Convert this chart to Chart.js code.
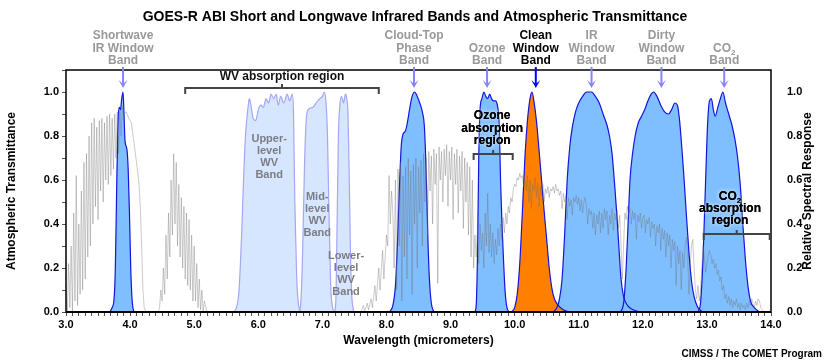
<!DOCTYPE html>
<html>
<head>
<meta charset="utf-8">
<script src="https://cdn.jsdelivr.net/npm/chart.js@4.4.0/dist/chart.umd.min.js"></script>
<style>
  body { margin: 0; background: #fff; }
</style>
</head>
<body>
<canvas id="chart" width="830" height="361"></canvas>
<script>
// atmospheric transmittance (gray line)
const transWl = [
  3.00,3.02,3.04,3.06,3.08,3.10,3.12,3.14,3.16,3.18,
  3.20,3.22,3.24,3.26,3.28,3.30,3.32,3.34,3.36,3.38,
  3.40,3.42,3.44,3.46,3.48,3.50,3.52,3.54,3.56,3.58,
  3.60,3.62,3.64,3.66,3.68,3.70,3.72,3.74,3.76,3.78,
  3.80,3.82,3.84,3.86,3.88,3.90,
  3.94,3.98,4.02,4.06,4.10,4.14,4.16,4.18,4.20,4.22,4.25,4.44,
  4.46,4.48,4.50,4.52,4.54,4.56,4.58,4.60,4.62,4.64,
  4.66,4.68,4.70,4.72,4.74,4.76,4.78,4.80,4.82,4.84,
  4.86,4.88,4.90,4.92,4.94,4.96,4.98,5.00,5.02,5.04,
  5.06,5.08,5.10,5.12,5.14,5.16,5.20,
  5.30,7.58,
  7.60,7.64,7.66,7.70,7.72,7.76,7.78,7.82,7.84,7.88,7.90,7.94,7.96,8.00,8.02,8.04,8.06,8.08,
  8.10,8.12,8.14,8.16,8.18,8.20,8.22,8.24,8.26,8.28,
  8.30,8.32,8.34,8.36,8.38,8.40,8.42,8.44,8.46,8.48,
  8.50,8.52,8.54,8.56,8.58,8.60,8.62,8.64,8.66,8.68,
  8.70,8.72,8.74,8.76,8.78,8.80,8.82,8.84,8.86,8.88,
  8.90,8.92,8.94,8.96,8.98,9.00,9.02,9.04,9.06,9.08,
  9.10,9.12,9.14,9.16,9.18,9.20,9.22,9.24,9.26,9.28,
  9.30,9.32,9.34,9.36,
  9.38,9.40,9.42,9.44,9.46,9.48,9.50,9.52,9.54,9.56,
  9.58,9.60,9.62,9.64,9.66,9.68,9.70,9.72,9.74,9.76,
  9.78,9.80,9.82,9.84,9.86,9.88,9.90,9.92,9.94,9.96,
  9.98,10.00,10.02,10.04,10.06,10.08,10.10,10.12,10.14,10.16,
  10.18,10.20,10.22,10.24,10.26,10.28,10.30,10.32,10.34,10.36,
  10.38,10.40,10.42,10.44,10.46,10.48,10.50,10.52,10.54,10.56,
  10.58,10.60,10.62,10.64,10.66,10.68,10.70,10.72,10.74,10.76,
  10.78,10.80,10.82,10.84,10.86,10.88,10.90,10.92,10.94,10.96,
  10.98,11.00,11.02,11.04,11.06,11.08,11.10,11.12,11.14,11.16,
  11.18,11.20,11.22,11.24,11.26,11.28,11.30,11.32,11.34,11.36,
  11.38,11.40,11.42,11.44,11.46,11.48,11.50,11.52,11.54,11.56,
  11.58,11.60,11.62,11.64,11.66,11.68,11.70,11.72,11.74,11.76,
  11.78,11.80,11.82,11.84,11.86,11.88,11.90,11.92,11.94,11.96,
  11.98,12.00,12.02,12.04,12.06,12.08,12.10,12.12,12.14,12.16,
  12.18,12.20,12.22,12.24,12.26,12.28,12.30,12.32,12.34,12.36,
  12.38,12.40,12.42,12.44,12.46,12.48,12.50,12.52,12.54,12.56,
  12.58,12.60,12.62,12.64,12.66,12.68,12.70,12.72,12.74,12.76,
  12.78,12.80,12.82,12.84,12.86,12.88,12.90,12.92,12.94,12.96,
  12.98,13.00,13.02,13.04,13.06,13.08,13.10,13.12,13.14,13.16,
  13.18,13.20,13.22,13.24,13.26,13.28,13.30,13.32,13.34,13.36,
  13.38,13.40,13.42,13.44,13.46,13.48,13.50,13.52,13.54,13.56,
  13.58,13.60,13.62,13.64,13.66,13.68,13.70,13.72,13.74,13.76,
  13.78,13.80,13.82,13.84,13.86,13.90,14.00
];
const transVal = [
  .10,.00,.22,.02,.30,.00,.45,.05,.62,.03,
  .40,.08,.55,.10,.68,.15,.72,.25,.80,.30,
  .86,.40,.88,.48,.84,.42,.87,.55,.88,.50,
  .86,.60,.89,.58,.90,.62,.88,.65,.90,.70,
  .91,.72,.92,.80,.93,.90,
  .91,.88,.86,.77,.68,.58,.47,.30,.10,.02,0,0,
  .02,.10,.05,.20,.08,.35,.15,.45,.25,.60,
  .35,.72,.40,.68,.30,.58,.25,.52,.20,.48,
  .15,.45,.12,.42,.10,.35,.05,.30,.05,.22,
  .02,.15,.01,.10,0,.05,0,
  0,0,
  0,.03,0,.04,.01,.06,.02,.12,.05,.20,.10,.28,.15,.35,.30,.62,.40,.55,
  .45,.20,.60,.10,.65,.30,.68,.05,.62,.25,
  .66,.15,.70,.35,.64,.08,.67,.40,.70,.20,
  .66,.45,.69,.30,.72,.50,.70,.35,.73,.55,
  .71,.40,.74,.58,.72,.13,.75,.60,.73,.50,
  .74,.62,.76,.48,.73,.60,.75,.42,.72,.58,
  .74,.45,.71,.55,.73,.38,.70,.50,.68,.35,
  .66,.25,.60,.20,
  .35,.25,.38,.22,.40,.28,.36,.20,.45,.30,
  .54,.27,.40,.25,.36,.22,.33,.26,.38,.30,
  .40,.33,.43,.36,.45,.40,.48,.45,.52,.50,
  .56,.58,.57,.61,.60,.63,.61,.62,.57,.60,
  .55,.62,.50,.60,.47,.58,.55,.61,.52,.59,
  .48,.57,.53,.58,.50,.56,.54,.57,.52,.56,
  .55,.57,.54,.58,.55,.56,.53,.55,.47,.54,
  .50,.53,.42,.52,.48,.51,.44,.52,.50,.53,
  .49,.52,.46,.51,.45,.50,.52,.48,.40,.47,
  .44,.46,.38,.45,.35,.44,.40,.46,.36,.45,
  .38,.47,.42,.46,.35,.44,.40,.47,.37,.45,
  .42,.46,.38,.44,.30,.15,.30,.45,.42,.48,
  .44,.47,.40,.46,.42,.45,.33,.44,.41,.45,
  .38,.43,.44,.36,.42,.40,.43,.34,.41,.38,
  .40,.30,.39,.36,.40,.28,.38,.33,.37,.25,
  .36,.30,.35,.20,.33,.28,.32,.12,.30,.22,
  .28,.10,.27,.20,.30,.34,.25,.08,.22,.30,
  .33,.20,.10,.06,.12,.05,.10,.20,.30,.25,
  .18,.22,.26,.28,.26,.22,.24,.20,.22,.17,
  .19,.14,.16,.10,.12,.06,.08,.04,.07,.03,
  .06,.02,.05,.03,.06,.02,.04,.01,.04,.02,
  .03,.01,.04,.02,.05,.03,.06,.04,.02,.05,
  .03,.06,.05,.02,.01,0,0
];

// ABI band relative spectral responses
const band07Wl   = [3.68,3.72,3.75,3.77,3.79,3.81,3.83,3.85,3.87,3.89,3.905,3.92,3.95,3.97,3.99,4.01,4.03,4.05,4.07];
const band07Resp = [0,.02,.06,.20,.55,.85,.93,.92,.97,1.0,.90,.78,.74,.65,.45,.20,.06,.01,0];

const band08Wl   = [5.60,5.66,5.70,5.74,5.77,5.80,5.84,5.86,5.88,5.92,5.96,6.00,6.04,6.08,6.12,6.16,6.20,6.24,6.28,6.31,6.35,6.40,6.45,6.49,6.53,6.55,6.57,6.60,6.63,6.67];
const band08Resp = [0,.02,.10,.35,.60,.80,.93,.97,.95,.88,.87,.92,.94,.93,.97,.95,.99,.97,.99,.94,.98,.95,.99,.96,.99,.90,.50,.15,.03,0];

const band09Wl   = [6.63,6.66,6.69,6.72,6.75,6.78,6.85,6.90,6.96,7.00,7.03,7.06,7.08,7.10,7.13,7.16,7.19];
const band09Resp = [0,.03,.25,.65,.88,.92,.93,.95,.97,.98,1.0,.94,.80,.50,.12,.02,0];

const band10Wl   = [7.19,7.21,7.23,7.25,7.27,7.30,7.33,7.36,7.38,7.40,7.42,7.44,7.46,7.49];
const band10Resp = [0,.05,.40,.80,.93,.98,.95,.99,.97,.90,.60,.25,.07,0];

const band11Wl   = [8.05,8.10,8.14,8.17,8.20,8.23,8.26,8.29,8.32,8.36,8.40,8.44,8.48,8.52,8.56,8.59,8.61,8.63,8.65,8.67,8.70,8.74];
const band11Resp = [0,.03,.12,.30,.55,.75,.81,.82,.85,.92,.98,1.0,.98,.95,.91,.85,.72,.52,.30,.15,.04,0];

const band12Wl   = [9.38,9.40,9.42,9.44,9.46,9.49,9.52,9.55,9.58,9.61,9.64,9.67,9.70,9.73,9.76,9.78,9.80,9.82,9.85,9.88,9.92];
const band12Resp = [0,.03,.25,.70,.92,.97,1.0,.98,.97,.99,.97,.96,.96,.94,.85,.60,.42,.28,.10,.02,0];

const band13Wl   = [9.95,10.00,10.04,10.08,10.12,10.16,10.20,10.24,10.27,10.30,10.34,10.38,10.42,10.46,10.50,10.54,10.58,10.62,10.68,10.76,10.85];
const band13Resp = [0,.02,.08,.22,.45,.70,.87,.97,1.0,.96,.87,.74,.60,.46,.33,.20,.11,.06,.03,.01,0];

const band14Wl   = [10.60,10.66,10.70,10.74,10.78,10.82,10.86,10.90,10.95,11.00,11.06,11.12,11.20,11.26,11.32,11.38,11.44,11.48,11.52,11.56,11.60,11.63,11.66,11.70,11.76,11.85,11.95];
const band14Resp = [0,.02,.06,.15,.35,.60,.75,.84,.91,.95,.98,1.0,1.0,.98,.95,.90,.85,.80,.72,.58,.42,.28,.15,.07,.03,.01,0];

const band15Wl   = [11.65,11.70,11.74,11.77,11.80,11.84,11.88,11.93,11.98,12.03,12.08,12.13,12.17,12.22,12.28,12.34,12.40,12.45,12.50,12.54,12.57,12.60,12.64,12.68,12.72,12.76,12.80,12.86,12.94];
const band15Resp = [0,.04,.20,.40,.60,.72,.80,.86,.89,.92,.96,.99,1.0,.98,.94,.91,.90,.92,.95,.94,.88,.78,.62,.44,.27,.14,.07,.02,0];

const band16Wl   = [12.86,12.90,12.94,12.98,13.01,13.04,13.07,13.10,13.13,13.17,13.21,13.25,13.29,13.34,13.39,13.44,13.48,13.52,13.56,13.60,13.64,13.68,13.74,13.82];
const band16Resp = [0,.04,.25,.60,.85,.96,.97,.92,.89,.93,.97,1.0,.95,.90,.85,.78,.70,.58,.40,.24,.12,.05,.02,0];

// labels above the plot with their arrow wavelengths
const bandNames = [
  { wl: 3.89,  lines: ['Shortwave', 'IR Window', 'Band'] },
  { wl: 8.43,  lines: ['Cloud-Top', 'Phase', 'Band'] },
  { wl: 9.57,  lines: ['Ozone', 'Band'] },
  { wl: 10.33, lines: ['Clean', 'Window', 'Band'], main: true },
  { wl: 11.2,  lines: ['IR', 'Window', 'Band'] },
  { wl: 12.29, lines: ['Dirty', 'Window', 'Band'] },
  { wl: 13.27, lines: ['CO2', 'Band'] }
];
const wvNames = [
  { wl: 6.17, v: .786, lines: ['Upper-', 'level', 'WV', 'Band'] },
  { wl: 6.92, v: .523, lines: ['Mid-', 'level', 'WV', 'Band'] },
  { wl: 7.37, v: .255, lines: ['Lower-', 'level', 'WV', 'Band'] }
];

const FONT = '"Liberation Sans", Arial, sans-serif';

function pts(xs, ys) {
  return xs.map((x, i) => ({ x: x, y: ys[i] }));
}

function band(wl, resp, fill, line, order) {
  return {
    data: pts(wl, resp),
    yAxisID: 'y2',
    backgroundColor: fill,
    borderColor: line,
    borderWidth: 1.2,
    fill: 'origin',
    cubicInterpolationMode: 'monotone',
    pointRadius: 0,
    order: order
  };
}

const blueFill = '#80bfff', blueLine = '#1414dc';
const wvFill = '#d5e6fe', wvLine = '#a6a6f4';

function label(ctx, str, x, y, size, color, glow) {
  ctx.font = 'bold ' + size + 'px ' + FONT;
  ctx.fillStyle = color;
  ctx.textAlign = 'center';
  ctx.textBaseline = 'middle';
  if (str === 'CO2') {
    // CO with subscript 2
    const w1 = ctx.measureText('CO').width;
    ctx.font = 'bold ' + Math.round(size * 0.7) + 'px ' + FONT;
    const w2 = ctx.measureText('2').width;
    const left = x - (w1 + w2) / 2;
    ctx.textAlign = 'left';
    ctx.font = 'bold ' + size + 'px ' + FONT;
    put(ctx, 'CO', left, y, glow);
    ctx.font = 'bold ' + Math.round(size * 0.7) + 'px ' + FONT;
    put(ctx, '2', left + w1, y + 4, glow);
    return;
  }
  put(ctx, str, x, y, glow);
}

function put(ctx, str, x, y, glow) {
  if (glow) {
    ctx.save();
    ctx.shadowColor = '#fff';
    ctx.shadowBlur = 4;
    ctx.fillText(str, x, y);
    ctx.restore();
  }
  ctx.fillText(str, x, y);
}

function bracket(ctx, x1, x2, y) {
  ctx.save();
  ctx.strokeStyle = '#444';
  ctx.lineWidth = 2;
  ctx.beginPath();
  ctx.moveTo(x1, y + 6);
  ctx.lineTo(x1, y);
  ctx.lineTo(x2, y);
  ctx.lineTo(x2, y + 6);
  ctx.moveTo((x1 + x2) / 2, y);
  ctx.lineTo((x1 + x2) / 2, y - 4);
  ctx.stroke();
  ctx.restore();
}

function arrow(ctx, x, top, tip, color) {
  ctx.save();
  ctx.strokeStyle = color;
  ctx.fillStyle = color;
  ctx.lineWidth = 2;
  ctx.beginPath();
  ctx.moveTo(x, top);
  ctx.lineTo(x, tip - 4);
  ctx.stroke();
  ctx.beginPath();
  ctx.moveTo(x - 4.5, tip - 8);
  ctx.lineTo(x, tip - 4);
  ctx.lineTo(x + 4.5, tip - 8);
  ctx.lineTo(x, tip);
  ctx.closePath();
  ctx.fill();
  ctx.restore();
}

const annotate = {
  id: 'annotate',
  afterDatasetsDraw(chart) {
    const ctx = chart.ctx;
    const a = chart.chartArea;
    const x = chart.scales.x, y = chart.scales.y;

    // frame
    ctx.save();
    ctx.strokeStyle = '#000';
    ctx.lineWidth = 1.5;
    ctx.strokeRect(a.left, a.top, a.right - a.left, a.bottom - a.top);
    ctx.lineWidth = 2;
    ctx.beginPath();
    ctx.moveTo(a.left, a.bottom);
    ctx.lineTo(a.right, a.bottom);
    ctx.stroke();
    ctx.restore();

    // title
    label(ctx, 'GOES-R ABI Short and Longwave Infrared Bands and Atmospheric Transmittance', 415, 17, 14, '#000');

    // band names + arrows
    bandNames.forEach(b => {
      const px = x.getPixelForValue(b.wl);
      const color = b.main ? '#000' : '#999';
      const n = b.lines.length;
      b.lines.forEach((t, i) => {
        label(ctx, t, px, 61 - (n - 1 - i) * 12.5, 12, color);
      });
      arrow(ctx, px, 67, 88, b.main ? '#0000ff' : '#8585ff');
    });

    // WV band names inside plot
    wvNames.forEach(b => {
      const px = x.getPixelForValue(b.wl);
      const py = y.getPixelForValue(b.v);
      b.lines.forEach((t, i) => label(ctx, t, px, py + i * 12, 11, '#7c7c84'));
    });

    // absorption regions
    bracket(ctx, x.getPixelForValue(4.86), x.getPixelForValue(7.88), y.getPixelForValue(1.018));
    label(ctx, 'WV absorption region', x.getPixelForValue(6.37), y.getPixelForValue(1.068), 12, '#111');

    const oy = y.getPixelForValue(.718);
    bracket(ctx, x.getPixelForValue(9.36), x.getPixelForValue(9.97), oy);
    const ox = x.getPixelForValue(9.65);
    ['Ozone', 'absorption', 'region'].forEach((t, i) => label(ctx, t, ox, oy - 38 + i * 12.5, 12, '#000', true));

    const cy = y.getPixelForValue(.355);
    bracket(ctx, x.getPixelForValue(12.95), x.getPixelForValue(13.98), cy);
    const cx = x.getPixelForValue(13.36);
    ['CO2', 'absorption', 'region'].forEach((t, i) => label(ctx, t, cx, cy - 37 + i * 11.8, 12, '#000', true));

    // axis titles
    const mid = (a.top + a.bottom) / 2;
    ctx.save();
    ctx.translate(12, mid);
    ctx.rotate(-Math.PI / 2);
    label(ctx, 'Atmospheric Transmittance', 0, 0, 12, '#000');
    ctx.restore();
    ctx.save();
    ctx.translate(808, mid);
    ctx.rotate(-Math.PI / 2);
    label(ctx, 'Relative Spectral Response', 0, 0, 12, '#000');
    ctx.restore();
    label(ctx, 'Wavelength (micrometers)', (a.left + a.right) / 2, 341, 12, '#000');

    ctx.font = 'bold 10px ' + FONT;
    ctx.textAlign = 'right';
    ctx.fillStyle = '#000';
    ctx.fillText('CIMSS / The COMET Program', 822, 354);
  }
};

const tickFont = { family: FONT, size: 11, weight: 'bold' };

function tenthLabel(v) {
  const t = Math.round(v * 10);
  return (t % 2 === 0 && t <= 10) ? (t / 10).toFixed(1) : '';
}

new Chart(document.getElementById('chart'), {
  type: 'line',
  data: {
    datasets: [
      {
        data: pts(transWl, transVal),
        yAxisID: 'y',
        borderColor: 'rgba(110,110,110,0.4)',
        borderWidth: 0.9,
        fill: false,
        pointRadius: 0,
        order: 0
      },
      band(band13Wl, band13Resp, '#ff8000', blueLine, 1),
      band(band07Wl, band07Resp, blueFill, blueLine, 2),
      band(band11Wl, band11Resp, blueFill, blueLine, 2),
      band(band12Wl, band12Resp, blueFill, blueLine, 2),
      band(band14Wl, band14Resp, blueFill, blueLine, 3),
      band(band15Wl, band15Resp, blueFill, blueLine, 3),
      band(band16Wl, band16Resp, blueFill, blueLine, 3),
      band(band08Wl, band08Resp, wvFill, wvLine, 4),
      band(band09Wl, band09Resp, wvFill, wvLine, 4),
      band(band10Wl, band10Resp, wvFill, wvLine, 4)
    ]
  },
  options: {
    responsive: false,
    animation: false,
    layout: { padding: { top: 70 } },
    plugins: {
      legend: { display: false },
      tooltip: { enabled: false },
      filler: { drawTime: 'beforeDatasetsDraw' }
    },
    scales: {
      x: {
        type: 'linear', min: 3, max: 14,
        afterFit: s => { s.height = 49; },
        ticks: {
          stepSize: 0.1, autoSkip: false, maxRotation: 0, padding: 2,
          color: '#000', font: tickFont,
          callback: v => Math.abs(v - Math.round(v)) < 1e-6 ? v.toFixed(1) : ''
        },
        grid: { drawOnChartArea: false, tickLength: 4, color: '#555' },
        border: { display: false }
      },
      y: {
        position: 'left', min: 0, max: 1.1,
        afterFit: s => { s.width = 66; },
        ticks: { stepSize: 0.1, autoSkip: false, padding: 3, color: '#000', font: tickFont, callback: tenthLabel },
        grid: { drawOnChartArea: false, tickLength: 4, color: '#555' },
        border: { display: false }
      },
      y2: {
        position: 'right', min: 0, max: 1.1,
        afterFit: s => { s.width = 59; },
        ticks: { stepSize: 0.1, autoSkip: false, padding: 8, color: '#000', font: tickFont, callback: tenthLabel },
        grid: { display: false },
        border: { display: false }
      }
    }
  },
  plugins: [annotate]
});
</script>
</body>
</html>
